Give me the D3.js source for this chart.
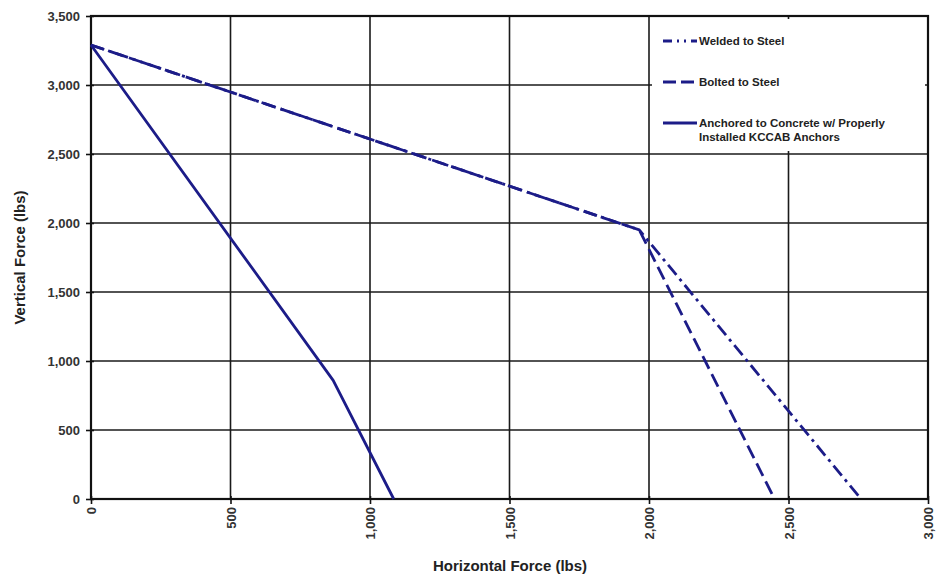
<!DOCTYPE html>
<html>
<head>
<meta charset="utf-8">
<script src="https://cdn.jsdelivr.net/npm/d3@7"></script>
<style>
  body { margin: 0; background: #fff; }
  text { font-family: "Liberation Sans", Arial, sans-serif; font-weight: bold; }
  .tick text { fill: #333; font-size: 13px; }
  .axis-title { font-size: 15px; fill: #222; }
  .legend text { font-size: 11.5px; fill: #222; }
</style>
</head>
<body>
<div id="chart-area"></div>
<script>
// data
var seriesNames = ["Welded to Steel", "Bolted to Steel", "Anchored to Concrete  w/ Properly|Installed KCCAB Anchors"];
var weldedX = [0, 1965, 2760];
var weldedY = [3290, 1950, 0];
var boltedX = [0, 1965, 2450];
var boltedY = [3290, 1950, 0];
var anchoredX = [0, 868, 1085];
var anchoredY = [3290, 860, 0];
var xTicks = [0, 500, 1000, 1500, 2000, 2500, 3000];
var yTicks = [0, 500, 1000, 1500, 2000, 2500, 3000, 3500];

var margin = {top: 16, right: 8, bottom: 79, left: 91};
var width = 936 - margin.left - margin.right,
    height = 578 - margin.top - margin.bottom;

var svg = d3.select("#chart-area").append("svg")
    .attr("width", 936)
    .attr("height", 578)
    .append("g")
    .attr("transform", "translate(" + margin.left + "," + margin.top + ")");

//SCALES
var x = d3.scaleLinear().domain([0, 3000]).range([0, width]);
var y = d3.scaleLinear().domain([0, 3500]).range([height, 0]);

var fmt = d3.format(",");

//GRID
svg.selectAll(".hgrid")
    .data(yTicks)
    .enter().append("line")
    .attr("x1", 0).attr("x2", width)
    .attr("y1", function(d) { return y(d); })
    .attr("y2", function(d) { return y(d); })
    .attr("stroke", "#1a1a1a").attr("stroke-width", 1.6);

svg.selectAll(".vgrid")
    .data(xTicks)
    .enter().append("line")
    .attr("y1", 0).attr("y2", height)
    .attr("x1", function(d) { return x(d); })
    .attr("x2", function(d) { return x(d); })
    .attr("stroke", "#1a1a1a").attr("stroke-width", 1.6);

//AXES
var yAxis = d3.axisLeft(y).tickValues(yTicks).tickFormat(fmt).tickSize(5).tickPadding(6);
svg.append("g").attr("class", "axis y-axis").call(yAxis)
    .call(function(g) {
        g.select(".domain").remove();
        g.selectAll(".tick line").attr("stroke", "#111").attr("stroke-width", 1.6).attr("x2", -5).attr("x1", 3);
    });

var xAxis = d3.axisBottom(x).tickValues(xTicks).tickFormat(fmt).tickSize(5).tickPadding(6);
svg.append("g").attr("class", "axis x-axis")
    .attr("transform", "translate(0," + height + ")")
    .call(xAxis)
    .call(function(g) {
        g.select(".domain").remove();
        g.selectAll(".tick line").attr("stroke", "#111").attr("stroke-width", 1.6).attr("y1", -3);
        g.selectAll(".tick text")
            .attr("transform", "rotate(-90)")
            .attr("x", -8).attr("y", 0).attr("dy", "0.35em")
            .style("text-anchor", "end");
    });

svg.append("rect")
    .attr("width", width).attr("height", height)
    .attr("fill", "none").attr("stroke", "#111").attr("stroke-width", 2.2);

//LEGEND BOX
var legend = svg.append("g").attr("class", "legend");
legend.append("rect")
    .attr("x", x(2000) + 3).attr("y", 3)
    .attr("width", width - x(2000) - 6).attr("height", y(2500) - 6)
    .attr("fill", "#fff");

//LINES
var lineColor = "#1c1c88";
var drawLine = d3.line()
    .x(function(d) { return x(d[0]); })
    .y(function(d) { return y(d[1]); });

var series = [
    {xs: weldedX, ys: weldedY, dash: "13,5,3,5"},
    {xs: boltedX, ys: boltedY, dash: "14,6"},
    {xs: anchoredX, ys: anchoredY, dash: null}
];

series.forEach(function(s) {
    var pts = s.xs.map(function(v, i) { return [v, s.ys[i]]; });
    svg.append("path")
        .attr("class", "line")
        .attr("d", drawLine(pts))
        .attr("fill", "none")
        .attr("stroke", lineColor)
        .attr("stroke-width", 2.8)
        .attr("stroke-linejoin", "round")
        .attr("stroke-dasharray", s.dash);
});

// legend entries
var lx = x(2000) + 14;
var rowsY = [25, 66, 107];
seriesNames.forEach(function(name, i) {
    legend.append("line")
        .attr("x1", lx).attr("x2", lx + 34)
        .attr("y1", rowsY[i]).attr("y2", rowsY[i])
        .attr("stroke", lineColor).attr("stroke-width", 2.8)
        .attr("stroke-dasharray", i === 0 ? "9,5,2,5,2,5" : (i === 1 ? "13,5" : null));
    var t = legend.append("text")
        .attr("x", lx + 36).attr("y", rowsY[i] + 4);
    name.split("|").forEach(function(part, j) {
        t.append("tspan").attr("x", lx + 36).attr("dy", j === 0 ? 0 : 14).text(part);
    });
});

//TITLES
svg.append("text")
    .attr("class", "axis-title")
    .attr("transform", "rotate(-90)")
    .attr("x", -height / 2)
    .attr("y", -66)
    .style("text-anchor", "middle")
    .text("Vertical Force (lbs)");

svg.append("text")
    .attr("class", "axis-title")
    .attr("x", 419)
    .attr("y", height + 72)
    .style("text-anchor", "middle")
    .text("Horizontal Force (lbs)");
</script>
</body>
</html>
